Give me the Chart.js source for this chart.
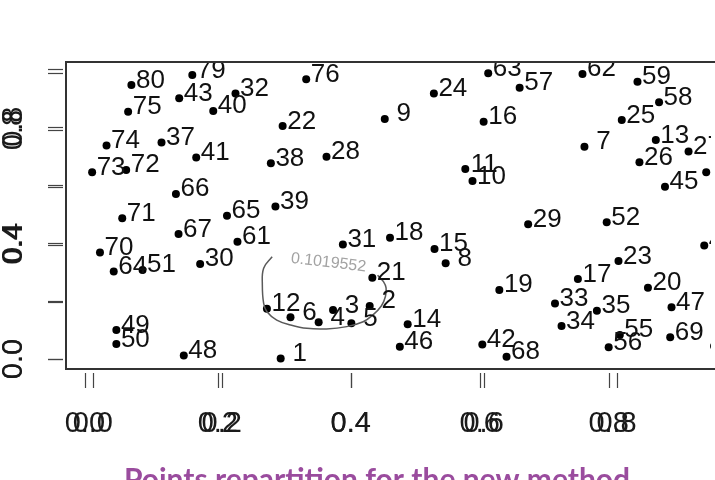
<!DOCTYPE html>
<html>
<head>
<meta charset="utf-8">
<script src="https://cdn.jsdelivr.net/npm/chart.js@4.4.1/dist/chart.umd.min.js"></script>
<style>
    html, body { margin: 0; padding: 0; background: #fff; overflow: hidden; }
    canvas { display: block; }
</style>
</head>
<body>
<canvas id="points-chart" width="715" height="480"></canvas>
<script>
// Point ids and positions
const pointIds = ['1', '2', '3', '4', '5', '6', '7', '8', '9', '10',
    '11', '12', '13', '14', '15', '16', '17', '18', '19', '20',
    '21', '22', '23', '24', '25', '26', '27', '28', '29', '30',
    '31', '32', '33', '34', '35', '36', '37', '38', '39', '40',
    '41', '42', '43', '44', '45', '46', '47', '48', '49', '50',
    '51', '52', '53', '55', '56', '57', '58', '59', '61', '62',
    '63', '64', '65', '66', '67', '68', '69', '70', '71', '72',
    '73', '74', '75', '76', '79', '80'];
const pointX = [0.293, 0.429, 0.373, 0.351, 0.401, 0.308, 0.757, 0.545, 0.452, 0.586,
    0.575, 0.272, 0.866, 0.487, 0.528, 0.603, 0.747, 0.460, 0.627, 0.854,
    0.433, 0.296, 0.809, 0.527, 0.814, 0.841, 0.916, 0.363, 0.671, 0.170,
    0.388, 0.224, 0.712, 0.722, 0.776, 0.943, 0.111, 0.278, 0.285, 0.190,
    0.164, 0.601, 0.138, 0.940, 0.880, 0.475, 0.890, 0.145, 0.042, 0.042,
    0.082, 0.791, 0.955, 0.811, 0.794, 0.658, 0.871, 0.838, 0.227, 0.754,
    0.610, 0.038, 0.211, 0.133, 0.137, 0.638, 0.888, 0.017, 0.051, 0.057,
    0.005, 0.027, 0.060, 0.332, 0.158, 0.065];
const pointY = [0.002, 0.185, 0.171, 0.128, 0.125, 0.146, 0.741, 0.334, 0.838, 0.621,
    0.663, 0.175, 0.764, 0.121, 0.384, 0.828, 0.279, 0.423, 0.241, 0.249,
    0.284, 0.813, 0.342, 0.927, 0.834, 0.687, 0.724, 0.706, 0.470, 0.332,
    0.400, 0.927, 0.194, 0.115, 0.168, 0.652, 0.756, 0.683, 0.532, 0.866,
    0.703, 0.051, 0.910, 0.396, 0.601, 0.043, 0.181, 0.012, 0.101, 0.052,
    0.311, 0.477, 0.045, 0.084, 0.041, 0.947, 0.896, 0.968, 0.409, 0.995,
    0.997, 0.305, 0.500, 0.576, 0.436, 0.008, 0.076, 0.372, 0.491, 0.660,
    0.652, 0.745, 0.863, 0.976, 0.991, 0.956];

// Contour line and its level label
const contourX = [0.441, 0.450, 0.454, 0.453, 0.447, 0.434, 0.419, 0.394, 0.363,
    0.333, 0.308, 0.287, 0.272, 0.267, 0.265, 0.267, 0.280];
const contourY = [0.292, 0.270, 0.248, 0.218, 0.186, 0.154, 0.130, 0.113, 0.105,
    0.107, 0.119, 0.136, 0.165, 0.194, 0.258, 0.317, 0.357];
const contourLevel = '0.1019552';
const contourLabelAt = [0.366, 0.336];

// Axis ticks
const xTicks = [0, 0.2, 0.4, 0.6, 0.8];
const xTickLabels = ['0.0', '0.2', '0.4', '0.6', '0.8'];
const yTicks = [0, 0.2, 0.4, 0.6, 0.8, 1.0];
const yTickLabels = ['0.0', '', '0.4', '', '0.8', ''];
const titleText = 'Points repartition for the new method';

const FONT = '"Liberation Sans", Arial, sans-serif';

// Base-graphics look: box, doubled axes, labels next to points
const rPlot = {
    id: 'rPlot',
    afterDatasetsDraw(chart) {
        const ctx = chart.ctx;
        const area = chart.chartArea;
        const xs = chart.scales.x;
        const ys = chart.scales.y;

        ctx.save();
        ctx.beginPath();
        ctx.rect(area.left, area.top, area.right - area.left, area.bottom - area.top);
        ctx.clip();

        ctx.fillStyle = '#111';
        ctx.font = '26px ' + FONT;
        ctx.textAlign = 'center';
        ctx.textBaseline = 'alphabetic';
        pointIds.forEach((id, i) => {
            const px = xs.getPixelForValue(pointX[i]);
            const py = ys.getPixelForValue(pointY[i]);
            ctx.fillText(id, px + 19, py + 2.5);
        });

        // contour level label
        ctx.translate(xs.getPixelForValue(contourLabelAt[0]), ys.getPixelForValue(contourLabelAt[1]));
        ctx.rotate(6.5 * Math.PI / 180);
        ctx.fillStyle = '#a3a3a3';
        ctx.font = '16px ' + FONT;
        ctx.textBaseline = 'middle';
        ctx.fillText(contourLevel, 0, 0);
        ctx.restore();
    },
    afterDraw(chart) {
        const ctx = chart.ctx;
        const area = chart.chartArea;
        ctx.save();

        ctx.strokeStyle = '#333';
        ctx.lineWidth = 2;
        ctx.strokeRect(area.left, area.top, area.right - area.left + 10, area.bottom - area.top);

        ctx.strokeStyle = '#444';
        ctx.lineWidth = 1.2;
        ctx.fillStyle = '#1a1a1a';
        ctx.font = '29px ' + FONT;
        ctx.textAlign = 'center';
        ctx.textBaseline = 'middle';

        ['xA', 'xB'].forEach(key => {
            const scale = chart.scales[key];
            xTicks.forEach((v, i) => {
                const px = Math.round(scale.getPixelForValue(v)) + 0.5;
                ctx.beginPath();
                ctx.moveTo(px, area.bottom + 4);
                ctx.lineTo(px, area.bottom + 19);
                ctx.stroke();
                ctx.fillText(xTickLabels[i], scale.getPixelForValue(v), area.bottom + 55);
            });
        });

        ['yA', 'yB'].forEach(key => {
            const scale = chart.scales[key];
            yTicks.forEach((v, i) => {
                const py = Math.round(scale.getPixelForValue(v)) + 0.5;
                ctx.beginPath();
                ctx.moveTo(area.left - 3, py);
                ctx.lineTo(area.left - 18, py);
                ctx.stroke();
                if (yTickLabels[i]) {
                    ctx.save();
                    ctx.translate(14, scale.getPixelForValue(v));
                    ctx.rotate(-Math.PI / 2);
                    ctx.fillText(yTickLabels[i], 0, 0);
                    ctx.restore();
                }
            });
        });

        ctx.fillStyle = '#9a4c9e';
        ctx.font = 'bold 30px Lato, "Open Sans", sans-serif';
        ctx.textBaseline = 'alphabetic';
        ctx.fillText(titleText, 377, 490);
        ctx.restore();
    }
};

const ctx = document.getElementById('points-chart').getContext('2d');
const pointsChart = new Chart(ctx, {
    type: 'scatter',
    data: {
        datasets: [{
            label: 'contour',
            data: contourX.map((x, i) => ({ x: x, y: contourY[i] })),
            showLine: true,
            tension: 0.4,
            borderColor: '#5a5a5a',
            borderWidth: 1.5,
            pointRadius: 0,
            fill: false
        }, {
            label: 'points',
            data: pointX.map((x, i) => ({ x: x, y: pointY[i] })),
            pointRadius: 4,
            pointBorderWidth: 0,
            pointBackgroundColor: '#000',
            showLine: false
        }]
    },
    options: {
        responsive: false,
        animation: false,
        events: [],
        layout: { padding: { left: 66, top: 62, right: 0, bottom: 111 } },
        plugins: {
            legend: { display: false },
            tooltip: { enabled: false }
        },
        scales: {
            x: { type: 'linear', min: -0.0349, max: 0.9503, display: false },
            y: { type: 'linear', min: -0.0349, max: 1.0366, display: false },
            xA: { type: 'linear', axis: 'x', position: 'bottom', min: -0.0284, max: 0.9421, display: false },
            xB: { type: 'linear', axis: 'x', position: 'bottom', min: -0.0416, max: 0.9588, display: false },
            yA: { type: 'linear', axis: 'y', position: 'left', min: -0.0344, max: 1.0227, display: false },
            yB: { type: 'linear', axis: 'y', position: 'left', min: -0.0349, max: 1.0376, display: false }
        }
    },
    plugins: [rPlot]
});
</script>
</body>
</html>
